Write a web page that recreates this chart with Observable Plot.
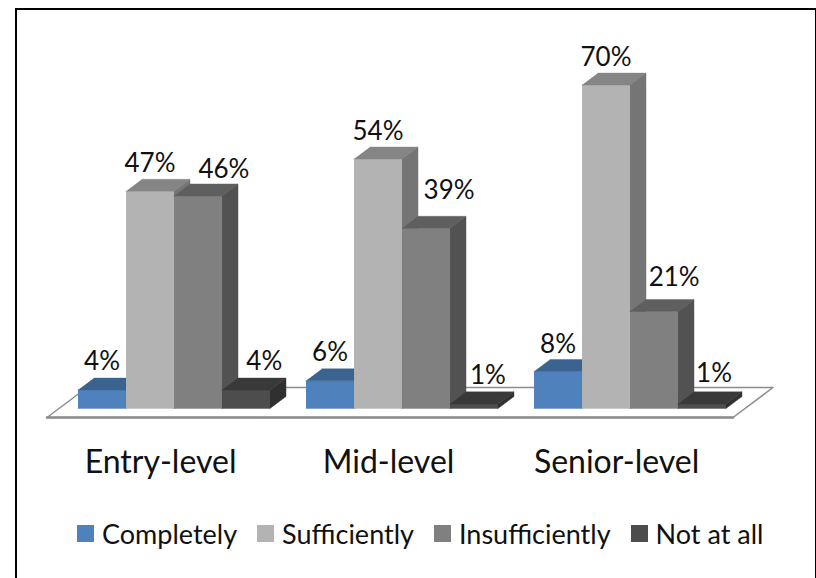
<!DOCTYPE html>
<html>
<head>
<meta charset="utf-8">
<script src="https://cdn.jsdelivr.net/npm/d3@7"></script>
<script src="https://cdn.jsdelivr.net/npm/@observablehq/plot@0.6"></script>
<style>
  html, body { margin: 0; padding: 0; background: #fff; overflow: hidden; }
  #page { position: relative; width: 816px; height: 578px; font-family: Lato, sans-serif; color: #111; }
  #border { position: absolute; left: 15px; top: 8px; width: 798px; height: 600px; border: solid #000; border-width: 2.5px 1.5px 0 2.5px; pointer-events: none; }
  #legend { position: absolute; left: 77px; top: 500px; height: 66px; display: flex; align-items: center; font-size: 27px; }
  #legend .item { display: flex; align-items: center; }
  #legend .swatch { width: 17px; height: 17px; margin-right: 8px; }
  svg { display: block; background: transparent !important; }
</style>
</head>
<body>
<div id="page"><div id="chart"></div><div id="legend"></div><div id="border"></div></div>
<script>
const levels = ["Entry-level", "Mid-level", "Senior-level"];
const seriesNames = ["Completely", "Sufficiently", "Insufficiently", "Not at all"];
const completely = [4, 6, 8];
const sufficiently = [47, 54, 70];
const insufficiently = [46, 39, 21];
const notAtAll = [4, 1, 1];
const seriesValues = [completely, sufficiently, insufficiently, notAtAll];

const frontColors = ["#4f81bd", "#b3b3b3", "#808080", "#4d4d4d"];
const topColors = ["#3b6390", "#858585", "#5f5f5f", "#393939"];
const sideColors = ["#2f5078", "#757575", "#525252", "#303030"];

// Layout in scale units: one bar slot wide, percent points high
const groupStep = 4.75;
const depthX = 1 / 3, depthY = 2.6;
const labelLift = 6.1;
const labelShiftX = [[0, 0, 0.54, 0.38], [0, 0, 0.48, 0.29], [0, 0, 0.42, 0.25]];
const labelShiftY = [[0, -0.1, -0.4, 0], [0, -0.2, 2, 0], [-0.2, -0.2, 1.3, 0.4]];
const floorX = [-0.646, 13.646], floorY = [-1.95, 4.55], floorDepth = 0.833;

const faces = [];
const labels = [];
let id = 0;
function face(pts, color) {
  id++;
  for (const [x, y] of pts) faces.push({id, x, y, color});
}
levels.forEach((level, g) => {
  seriesNames.forEach((name, s) => {
    const v = seriesValues[s][g];
    const x0 = g * groupStep + s, x1 = x0 + 1;
    face([[x0, 0], [x1, 0], [x1, v], [x0, v]], frontColors[s]);
    face([[x0, v], [x1, v], [x1 + depthX, v + depthY], [x0 + depthX, v + depthY]], topColors[s]);
    face([[x1, 0], [x1 + depthX, depthY], [x1 + depthX, v + depthY], [x1, v]], sideColors[s]);
    labels.push({
      x: x0 + 0.5 + labelShiftX[g][s],
      y: v + labelLift + labelShiftY[g][s],
      text: v + "%"
    });
  });
});

const floor = [
  {x: floorX[0], y: floorY[0]},
  {x: floorX[1], y: floorY[0]},
  {x: floorX[1] + floorDepth, y: floorY[1]},
  {x: floorX[0] + floorDepth, y: floorY[1]},
  {x: floorX[0], y: floorY[0]}
];
const floorFront = floor.slice(0, 2);

const centers = levels.map((_, g) => g * groupStep + 1.72);

const plot = Plot.plot({
  width: 816,
  height: 500,
  marginTop: 0, marginRight: 0, marginBottom: 60, marginLeft: 0,
  x: {domain: [-1.615, 15.385]},
  y: {domain: [-6.926, 88.31], axis: null},
  color: {type: "identity"},
  style: {background: "transparent"},
  marks: [
    Plot.line(floor, {x: "x", y: "y", fill: "#fff", stroke: "#8c8c8c", strokeWidth: 1.5}),
    Plot.line(floorFront, {x: "x", y: "y", stroke: "#8c8c8c", strokeWidth: 2.5}),
    Plot.line(faces, {x: "x", y: "y", z: "id", fill: "color", stroke: "color", strokeWidth: 0.4}),
    Plot.text(labels, {x: "x", y: "y", text: "text", fontSize: 26, fill: "#111", fontFamily: "Lato, sans-serif"}),
    Plot.axisX({
      anchor: "bottom",
      ticks: centers,
      tickFormat: (d) => levels[centers.indexOf(d)],
      tickSize: 0,
      tickPadding: 10,
      fontSize: 32,
      fontFamily: "Lato, sans-serif",
      fill: "#111",
      label: null
    })
  ]
});
document.getElementById("chart").append(plot);

const legend = document.getElementById("legend");
seriesNames.forEach((name, s) => {
  const item = document.createElement("div");
  item.className = "item";
  item.style.marginRight = "20px";
  const sw = document.createElement("div");
  sw.className = "swatch";
  sw.style.background = frontColors[s];
  const t = document.createElement("span");
  t.textContent = name;
  item.append(sw, t);
  legend.append(item);
});
</script>
</body>
</html>
